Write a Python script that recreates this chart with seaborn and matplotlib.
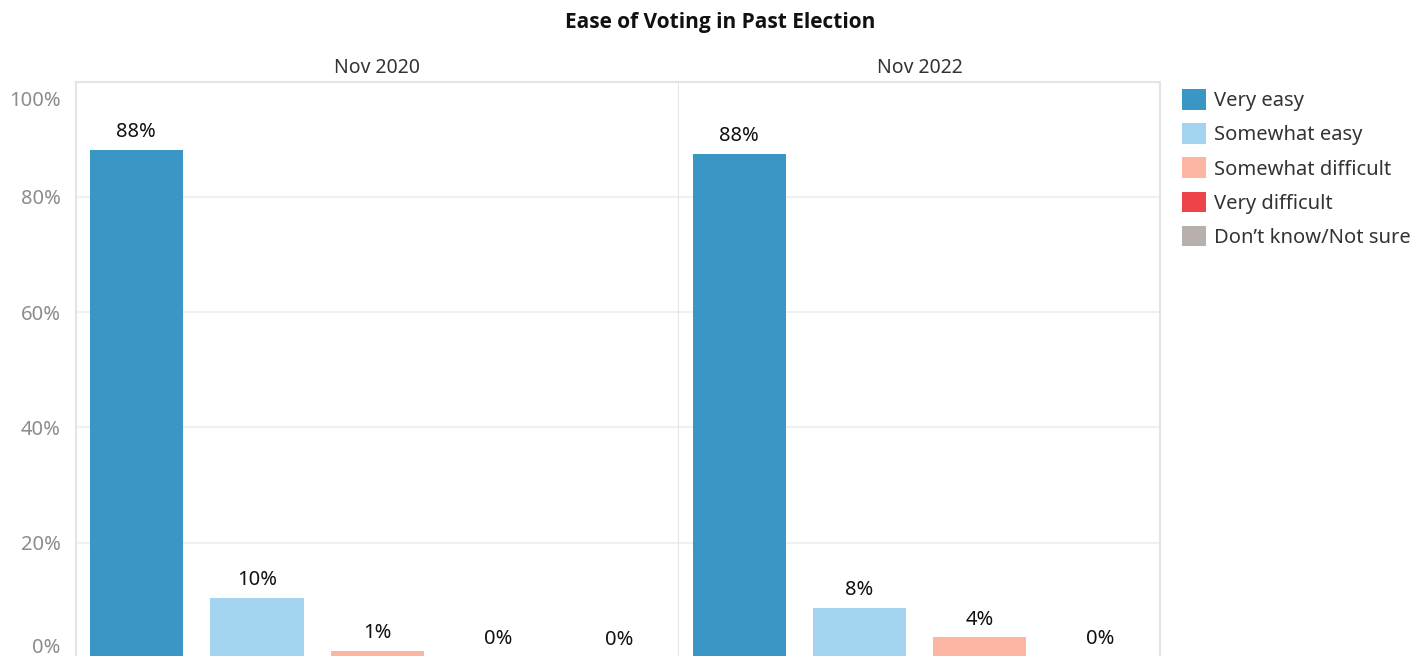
import matplotlib
matplotlib.use("Agg")
import matplotlib.pyplot as plt
import matplotlib.transforms as mtrans
import seaborn as sns
import pandas as pd
from matplotlib.patches import Patch

# ---- data ----
categories = ["Very easy", "Somewhat easy", "Somewhat difficult", "Very difficult", "Don\u2019t know/Not sure"]
panels = ["Nov 2020", "Nov 2022"]
values_2020 = [88.2, 10.4, 1.2, 0.2, 0.1]
labels_2020 = ["88%", "10%", "1%", "0%", "0%"]
cats_2022 = ["Very easy", "Somewhat easy", "Somewhat difficult", "Very difficult"]
values_2022 = [87.5, 8.7, 3.6, 0.2]
labels_2022 = ["88%", "8%", "4%", "0%"]
y_ticks = [0, 20, 40, 60, 80, 100]
y_tick_labels = ["0%", "20%", "40%", "60%", "80%", "100%"]

colors = ["#3996c5", "#a2d3ef", "#fdb5a3", "#ef434a", "#b8b0ac"]
palette = dict(zip(categories, colors))

sns.set_theme(style="white")
plt.rcParams["font.family"] = ["Noto Sans", "DejaVu Sans"]

FS = 14.5

W, H = 1428, 656
fig = plt.figure(figsize=(W / 100, H / 100), dpi=100)

top_px, zero_px = 81.7, 657.7
bottom = (H - zero_px) / H
height = (zero_px - top_px) / H
ax1 = fig.add_axes([76 / W, bottom, 603 / W, height])
ax2 = fig.add_axes([679 / W, bottom, 481 / W, height])

grid_c = "#f0f0f0"
spine_c = "#e4e4e4"

panel_data = [
    (ax1, panels[0], categories, values_2020, labels_2020),
    (ax2, panels[1], cats_2022, values_2022, labels_2022),
]

for ax, title, cats, vals, labs in panel_data:
    df = pd.DataFrame({"cat": cats, "val": vals})
    sns.barplot(data=df, x="cat", y="val", hue="cat", order=cats, hue_order=cats,
                palette=palette, dodge=False, width=0.775, legend=False,
                saturation=1, linewidth=0, edgecolor="none", ax=ax, zorder=3)
    ax.set_ylim(0, 100)
    ax.set_xlim(-0.5, len(cats) - 0.5)
    ax.set_yticks(y_ticks)
    ax.yaxis.grid(True, color=grid_c, linewidth=1.5, zorder=0)
    ax.set_axisbelow(True)
    ax.set_xticks([])
    ax.set_xlabel("")
    ax.set_ylabel("")
    for s in ["top", "left", "right"]:
        ax.spines[s].set_color(spine_c)
        ax.spines[s].set_linewidth(1.5)
    ax.spines["bottom"].set_visible(False)
    ax.set_title(title, fontsize=FS - 0.5, color="#333333", pad=6)
    bars = [p for c in ax.containers for p in c]
    bars.sort(key=lambda p: p.get_x())
    for p, lab in zip(bars, labs):
        ax.annotate(lab, (p.get_x() + p.get_width() / 2, p.get_height()),
                    xytext=(0, 12.5), textcoords="offset points",
                    ha="center", va="center", fontsize=FS, color="#111111")

ax1.set_yticklabels(y_tick_labels, fontsize=FS, color="#8c8c8c")
ax1.tick_params(axis="y", length=0, pad=11)
tl = ax1.get_yticklabels()
tl[0].set_va("bottom")
tl[-1].set_va("center")
tl[-1].set_transform(tl[-1].get_transform() +
                     mtrans.ScaledTranslation(0, -19 / 100, fig.dpi_scale_trans))
ax2.set_yticklabels([])
ax2.tick_params(axis="y", length=0)
ax2.spines["left"].set_visible(False)

fig.text(720 / W, 1 - 22.5 / H, "Ease of Voting in Past Election", ha="center", va="center",
         fontsize=15, fontweight="bold", color="#111111",
         family=["Open Sans", "Lato", "DejaVu Sans"])

handles = [Patch(facecolor=palette[c], edgecolor="none") for c in categories]
leg = fig.legend(handles, categories, loc="upper left", bbox_to_anchor=(1182 / W, 1 - 89 / H),
                 frameon=False, fontsize=FS, handlelength=1.2, handleheight=1.2,
                 handletextpad=0.4, labelspacing=0.6, borderaxespad=0, borderpad=0)
for t in leg.get_texts():
    t.set_color("#333333")

fig.savefig("out.png", dpi=100)
